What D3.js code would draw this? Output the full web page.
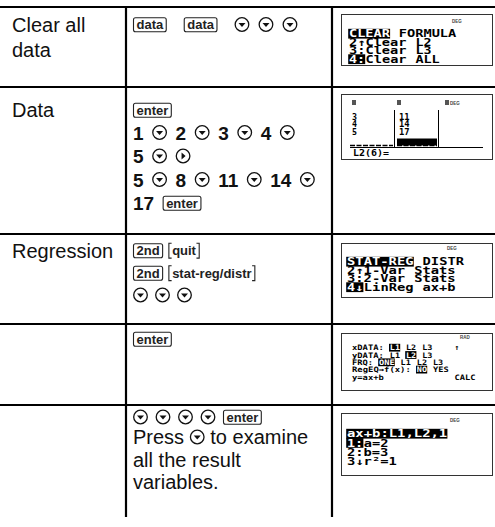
<!DOCTYPE html>
<html><head><meta charset="utf-8">
<script src="https://cdn.jsdelivr.net/npm/d3@7"></script>
<style>body{margin:0;background:#fff}svg{display:block}</style>
</head><body>
<script>
// ---------- data ----------
const rowLabels = [["Clear all", "data"], ["Data"], ["Regression"], [], []];
// tokens: [key] boxed key, {key} 2nd-function key, (v) down arrow, (>) right arrow, *n bold number, plain words
const stepLines = [
  ["[data] [data] (v) (v) (v)"],
  ["[enter]", "*1 (v) *2 (v) *3 (v) *4 (v)", "*5 (v) (>)", "*5 (v) *8 (v) *11 (v) *14 (v)", "*17 [enter]"],
  ["[2nd] {quit}", "[2nd] {stat-reg/distr}", "(v) (v) (v)"],
  ["[enter]"],
  ["(v) (v) (v) (v) [enter]", "Press (v) to examine", "all the result", "variables."]
];
// calculator screens: «...» = inverted (highlighted) text
const menuScreens = [
  {row: 0, mode: "DEG", lines: ["«CLEAR» FORMULA", "2↑Clear L2", "3:Clear L3", "«4:»Clear ALL"]},
  {row: 2, mode: "DEG", lines: ["«STAT-REG» DISTR", "2↑1-Var Stats", "3:2-Var Stats", "«4↓»LinReg ax+b"]},
  {row: 3, mode: "RAD", lines: ["xDATA: «L1» L2 L3    ↑", "yDATA: L1 «L2» L3", "FRQ: «ONE» L1 L2 L3", "RegEQ→f(x): «NO» YES", "y=ax+b             CALC"]},
  {row: 4, mode: "DEG", lines: ["«ax+b:L1,L2,1»", "«1:»a=2", "2:b=3", "3↓r²=1"]}
];
const listNames = ["L1", "L2", "L3"];
const listL1 = ["3", "4", "5"];
const listL2 = ["11", "14", "17"];
const listEditLine = "L2(6)=";

// ---------- layout ----------
const W = 495, H = 527;
const hLineY = [7, 87, 234, 324, 405];
const vLineX = [126, 332];
const tableBottom = 517;
const labelBase = [[32, 57], [117], [258], [], []];
const stepCY = [[24.5], [110, 132.5, 156, 179.5, 203], [250.5, 273, 295], [339], [417, 437, 459.5, 482]];
const colX = 133, labelX = 12;
const ink = "#111";
const SANS = "'Liberation Sans', Arial, Helvetica, sans-serif";
const MONO = "'DejaVu Sans Mono', monospace";

const svg = d3.select("body").append("svg").attr("width", W).attr("height", H);

// table rules
svg.selectAll("line.h").data(hLineY).join("line")
  .attr("x1", 0).attr("x2", W).attr("y1", d => d).attr("y2", d => d)
  .attr("stroke", "#000").attr("stroke-width", 2.2);
svg.selectAll("line.v").data(vLineX).join("line")
  .attr("x1", d => d).attr("x2", d => d).attr("y1", hLineY[0]).attr("y2", tableBottom)
  .attr("stroke", "#000").attr("stroke-width", 2.2);

// row labels
rowLabels.forEach((lines, r) => {
  lines.forEach((s, i) => {
    svg.append("text").attr("x", labelX).attr("y", labelBase[r][i])
      .attr("font-family", SANS).attr("font-size", 20).attr("fill", ink).text(s);
  });
});

// tokens
function drawCircle(g, x, cy, dir) {
  const r = 6.8, cx = x + 7.5;
  g.append("circle").attr("cx", cx).attr("cy", cy).attr("r", r)
    .attr("fill", "none").attr("stroke", ink).attr("stroke-width", 1.3);
  const p = dir === "down"
    ? `M${cx - 3.5},${cy - 1.5}L${cx + 3.5},${cy - 1.5}L${cx},${cy + 2.5}Z`
    : `M${cx - 1.5},${cy - 3.5}L${cx + 2.5},${cy}L${cx - 1.5},${cy + 3.5}Z`;
  g.append("path").attr("d", p).attr("fill", ink);
  return 15;
}
const KEYFS = 13;
function drawKey(g, label, x, cy) {
  const rect = g.append("rect");
  const t = g.append("text").attr("x", x + 3.5).attr("y", cy + 4.6)
    .attr("font-family", SANS).attr("font-weight", "bold").attr("font-size", KEYFS)
    .attr("fill", "#222").text(label);
  const w = t.node().getComputedTextLength() + 7;
  rect.attr("x", x + 0.5).attr("y", cy - 6.8).attr("width", w - 1).attr("height", 14).attr("rx", 2)
    .attr("fill", "none").attr("stroke", "#222").attr("stroke-width", 1.1);
  return w;
}
function drawSec(g, label, x, cy) {
  const t = g.append("text").attr("x", x + 4).attr("y", cy + 4.6)
    .attr("font-family", SANS).attr("font-weight", "bold").attr("font-size", KEYFS)
    .attr("fill", "#222").text(label);
  const w = t.node().getComputedTextLength() + 8;
  g.append("path").attr("d", `M${x + 3.5},${cy - 7.2}H${x + 0.75}V${cy + 7.6}H${x + 3.5}M${x + w - 3.5},${cy - 7.2}H${x + w - 0.75}V${cy + 7.6}H${x + w - 3.5}`)
    .attr("fill", "none").attr("stroke", "#222").attr("stroke-width", 1.1);
  return w;
}
function drawText(g, s, x, cy, bold) {
  const t = g.append("text").attr("x", x).attr("y", cy + 7)
    .attr("font-family", SANS).attr("font-size", bold ? 19 : 20).attr("font-weight", bold ? "bold" : "normal")
    .attr("fill", ink).text(s);
  return t.node().getComputedTextLength();
}
function drawLine(g, str, x0, cy, gap, keyGap) {
  const toks = str.split(" ");
  let x = x0, prev = null;
  toks.forEach((tk, i) => {
    let type = "word";
    if (tk[0] === "[") type = "key";
    else if (tk[0] === "{") type = "sec";
    else if (tk === "(v)") type = "down";
    else if (tk === "(>)") type = "right";
    else if (tk[0] === "*") type = "num";
    if (i > 0) {
      if (type === "word" || prev === "word") x += 5.6;
      else if (prev === "key" || prev === "sec") x += keyGap;
      else x += gap;
    }
    let w;
    if (type === "key") w = drawKey(g, tk.slice(1, -1), x, cy);
    else if (type === "sec") w = drawSec(g, tk.slice(1, -1), x, cy);
    else if (type === "down" || type === "right") w = drawCircle(g, x, cy, type);
    else if (type === "num") w = drawText(g, tk.slice(1), x, cy, true);
    else w = drawText(g, tk, x, cy, false);
    x += w; prev = type;
  });
}
const rowGap = [9, 8.5, 7, 7, 7.5];
const rowKeyGap = [17, 6, 5, 5, 5];
stepLines.forEach((lines, r) => {
  const g = svg.append("g");
  lines.forEach((s, i) => drawLine(g, s, colX, stepCY[r][i], rowGap[r], rowKeyGap[r]));
});

// ---------- screens ----------
const screenBox = [[341, 14, 152, 52], [341, 94, 152, 66], [341, 243, 152, 55], [341, 333, 152, 58], [341, 413, 152, 63]];
const screenText = {
  0: {x0: 349, top: 30, lh: 8.5, cw: 8.3, fs: 10, ch: 7.4, modeX: 452, modeY: 23},
  2: {x0: 347, top: 258, lh: 8.5, cw: 8.4, fs: 10, ch: 7.4, modeX: 447, modeY: 250},
  3: {x0: 352, top: 345, lh: 7.3, cw: 5.4, fs: 7.4, ch: 5.4, modeX: 460, modeY: 339},
  4: {x0: 347, top: 430, lh: 9.2, cw: 8.4, fs: 10, ch: 7.4, modeX: 450, modeY: 422}
};
screenBox.forEach(b => {
  svg.append("rect").attr("x", b[0] + 0.5).attr("y", b[1] + 0.5).attr("width", b[2] - 1).attr("height", b[3] - 1)
    .attr("fill", "#fff").attr("stroke", "#333").attr("stroke-width", 1);
});
function lcdText(g, s, x, base, n, cw, fs, fill) {
  g.append("text").attr("x", x).attr("y", base).attr("font-family", MONO).attr("font-size", fs)
    .attr("font-weight", "bold")
    .attr("textLength", n * cw - 0.6).attr("lengthAdjust", "spacingAndGlyphs")
    .attr("fill", fill).text(s);
}
function drawScreenLine(g, str, p, top) {
  const base = top + p.ch;
  const parts = str.split(/(«[^»]*»)/).filter(s => s.length);
  let col = 0;
  parts.forEach(part => {
    if (part[0] === "«") {
      const s = part.slice(1, -1);
      g.append("rect").attr("x", p.x0 + col * p.cw - 0.8).attr("y", top - 1.2)
        .attr("width", s.length * p.cw + 0.4).attr("height", p.ch + 2.4).attr("fill", "#000");
      lcdText(g, s, p.x0 + col * p.cw, base, s.length, p.cw, p.fs, "#fff");
      col += s.length;
    } else {
      let i = 0;
      part.split(/( +)/).forEach(w => {
        if (w.length && w[0] !== " ") lcdText(g, w, p.x0 + (col + i) * p.cw, base, w.length, p.cw, p.fs, "#000");
        i += w.length;
      });
      col += part.length;
    }
  });
}
menuScreens.forEach(sc => {
  const p = screenText[sc.row];
  const g = svg.append("g");
  g.append("text").attr("x", p.modeX).attr("y", p.modeY).attr("font-family", SANS).attr("font-weight", "bold")
    .attr("font-size", 4.5).attr("fill", "#444").text(sc.mode);
  sc.lines.forEach((ln, i) => drawScreenLine(g, ln, p, p.top + i * p.lh));
});

// list editor screen (row 1)
{
  const g = svg.append("g");
  const colsX = [352, 397, 445];
  const cw = 5.6, fs = 9.4, ch = 6.8, lh = 7.4, top0 = 113;
  listNames.forEach((nm, i) => {
    g.append("rect").attr("x", colsX[i]).attr("y", 100).attr("width", 4).attr("height", 5).attr("fill", "#555");
  });
  g.append("text").attr("x", colsX[2] + 5).attr("y", 104.5).attr("font-family", SANS).attr("font-weight", "bold")
    .attr("font-size", 4.5).attr("fill", "#444").text("DEG");
  [listL1, listL2].forEach((vals, c) => {
    vals.forEach((v, i) => lcdText(g, v, colsX[c] + (c ? 2 : 0), top0 + i * lh + ch, v.length, cw, fs, "#000"));
  });
  [394, 438].forEach(x => g.append("line").attr("x1", x + 0.5).attr("x2", x + 0.5).attr("y1", 110).attr("y2", 147)
    .attr("stroke", "#000").attr("stroke-width", 1));
  g.append("line").attr("x1", 350).attr("x2", 393).attr("y1", 145.5).attr("y2", 145.5)
    .attr("stroke", "#000").attr("stroke-width", 1.6).attr("stroke-dasharray", "5,1.5");
  g.append("rect").attr("x", 397).attr("y", 138.5).attr("width", 40).attr("height", 7).attr("fill", "#000");
  g.append("line").attr("x1", 397).attr("x2", 437).attr("y1", 145.5).attr("y2", 145.5)
    .attr("stroke", "#000").attr("stroke-width", 1.6).attr("stroke-dasharray", "5,1.5");
  g.append("line").attr("x1", 350).attr("x2", 483).attr("y1", 147.5).attr("y2", 147.5)
    .attr("stroke", "#000").attr("stroke-width", 1);
  lcdText(g, listEditLine, 353, 156, listEditLine.length, 6.1, fs, "#000");
}
</script>
</body></html>
